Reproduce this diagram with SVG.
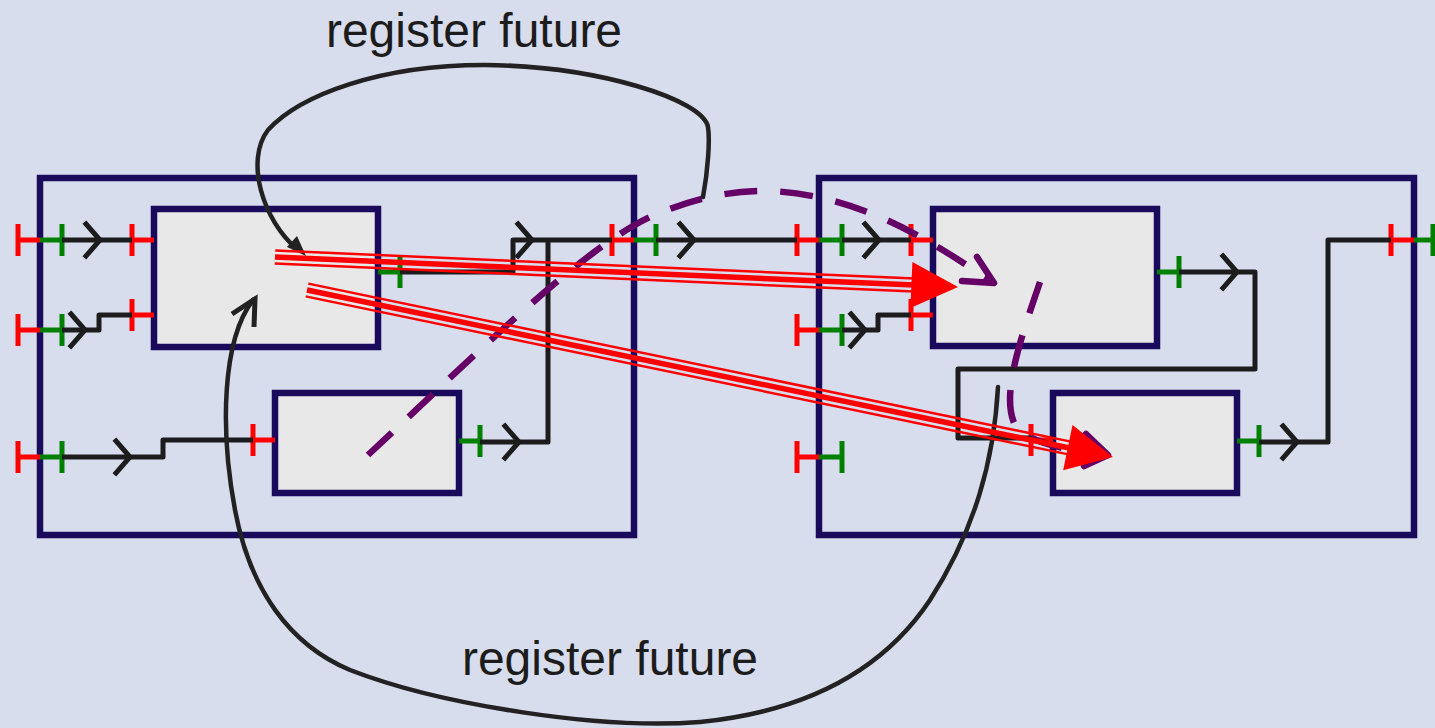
<svg xmlns="http://www.w3.org/2000/svg" width="1435" height="728" viewBox="0 0 1435 728">
<style>
.outer{fill:none;stroke:#1a0a5c;stroke-width:6.5}
.inner{fill:#e8e8e8;stroke:#1a0a5c;stroke-width:6.5}
.r{stroke:#ff0000;stroke-width:5;fill:none}
.g{stroke:#008000;stroke-width:5;fill:none}
.w{stroke:#1c1c1c;stroke-width:5;fill:none;stroke-linejoin:round}
.cv{stroke:#1c1c1c;stroke-width:5;fill:none;stroke-linecap:square;stroke-linejoin:miter}
.curve{stroke:#222;stroke-width:4.5;fill:none;stroke-linecap:round}
.dash{stroke:#650066;stroke-width:6.5;fill:none;stroke-dasharray:33 23}
.ph{stroke:#650066;stroke-width:6.5;fill:none;stroke-linecap:round;stroke-linejoin:round}
.thin{stroke:#ff0000;stroke-width:2.5}
.thick{stroke:#ff0000;stroke-width:5.5}
.head{fill:#ff0000}
.lbl{font-family:"Liberation Sans",Arial,sans-serif;font-size:48px;fill:#1c1c1c;text-anchor:middle}
</style>
<defs>
<path id="chev" d="M-14,-16 L0,0 L-14,16"/>
</defs>
<rect width="1435" height="728" fill="#d7ddec"/>

<g id="outer-left">
<rect class="outer" x="40" y="178" width="594" height="357"/>
<path class="r" d="M18,224V256M18,240H40M612,224V256M612,240H634"/>
<path class="g" d="M40,240H62M62,224V256M634,240H656M656,224V256"/>
<path class="r" d="M18,314V346M18,330H40"/>
<path class="g" d="M40,330H62M62,314V346"/>
<path class="r" d="M18,441V473M18,457H40"/>
<path class="g" d="M40,457H62M62,441V473"/>
</g>
<g id="box-a">
<rect class="inner" x="154" y="209" width="224" height="138"/>
<path class="r" d="M132,224V256M132,240H154M132,299V331M132,315H154"/>
<path class="g" d="M378,272H400M400,256V288"/>
</g>
<g id="box-b">
<rect class="inner" x="275" y="393" width="184" height="100"/>
<path class="r" d="M253,424V456M253,440H275"/>
<path class="g" d="M459,441H480M480,425V457"/>
</g>
<g id="outer-right">
<rect class="outer" x="819" y="178" width="595" height="357"/>
<path class="r" d="M797,224V256M797,240H819M797,314V346M797,330H819M797,441V473M797,457H819M1391,224V256M1391,240H1414"/>
<path class="g" d="M819,240H842M842,224V256M819,330H842M842,314V346M819,457H842M842,441V473M1414,240H1436M1433,224V256"/>
</g>
<g id="box-c">
<rect class="inner" x="933" y="209" width="224" height="137"/>
<path class="r" d="M911,224V256M911,240H933M911,299V331M911,315H933"/>
<path class="g" d="M1157,272H1179M1179,256V288"/>
</g>
<g id="box-d">
<rect class="inner" x="1053" y="393" width="184" height="100"/>
<path class="r" d="M1031,424V456M1031,440H1053"/>
<path class="g" d="M1237,441H1259M1259,425V457"/>
</g>

<g id="connectors">
<g id="wires">
<path class="w" d="M62,240H132"/><use href="#chev" class="cv" x="100" y="240"/>
<path class="w" d="M62,330H99V315H132"/><use href="#chev" class="cv" x="85" y="330"/>
<path class="w" d="M62,457H163V440H253"/><use href="#chev" class="cv" x="130" y="457"/>
<path class="w" d="M400,272H513V240H612"/><use href="#chev" class="cv" x="532" y="240"/>
<path class="w" d="M480,442H548V240"/><use href="#chev" class="cv" x="519" y="442"/>
<path class="w" d="M656,240H797"/><use href="#chev" class="cv" x="694" y="240"/>
<path class="w" d="M842,240H911"/><use href="#chev" class="cv" x="879" y="240"/>
<path class="w" d="M842,330H878V315H911"/><use href="#chev" class="cv" x="865" y="330"/>
<path class="w" d="M1179,272H1255V369H958V438H1031"/><use href="#chev" class="cv" x="1237" y="272"/>
<path class="w" d="M1259,442H1328V240H1391"/><use href="#chev" class="cv" x="1297" y="442"/>
</g>
<g id="register-curves">
<path class="curve" d="M703,197C708,170 710,140 708,127C703,100 600,66 484,65C380,65 300,95 268,130C245,160 262,220 298,250"/>
<polygon points="306,256 287,247 297,236" fill="#222"/>
<path class="curve" d="M998,387C994,460 975,530 930,600C880,675 800,712 700,722C600,730 440,705 350,670C290,645 250,590 235,510C220,430 222,340 253,300"/>
<polyline points="232,314 255,299 254,327" fill="none" stroke="#222" stroke-width="5" stroke-linejoin="miter"/>
</g>
<g id="dashed">
<path class="dash" d="M368,455C470,360 580,250 650,217C700,195 740,190 770,191C860,195 930,240 992,282"/>
<polyline class="ph" points="977,257 994,283 962,281"/>
<path class="dash" d="M1040,282C1022,335 1000,395 1015,425C1030,445 1070,450 1108,455"/>
<polyline class="ph" points="1086,434 1108,455 1084,466"/>
</g>
<g id="red-arrows">
<g transform="translate(275,257) rotate(2.515)">
<line class="thin" x1="0" y1="-6.5" x2="640" y2="-6.5"/>
<line class="thick" x1="0" y1="0" x2="640" y2="0"/>
<line class="thin" x1="0" y1="6.5" x2="640" y2="6.5"/>
<polygon class="head" points="637,-23 683.7,0 637,23"/>
</g>
<g transform="translate(307,290) rotate(11.706)">
<line class="thin" x1="0" y1="-6.5" x2="780" y2="-6.5"/>
<line class="thick" x1="0" y1="0" x2="780" y2="0"/>
<line class="thin" x1="0" y1="6.5" x2="780" y2="6.5"/>
<polygon class="head" points="777,-23 823,0 777,23"/>
</g>
</g>
</g>
<g id="labels">
<text class="lbl" x="474" y="47">register future</text>
<text class="lbl" x="610" y="675">register future</text>
</g>
</svg>
